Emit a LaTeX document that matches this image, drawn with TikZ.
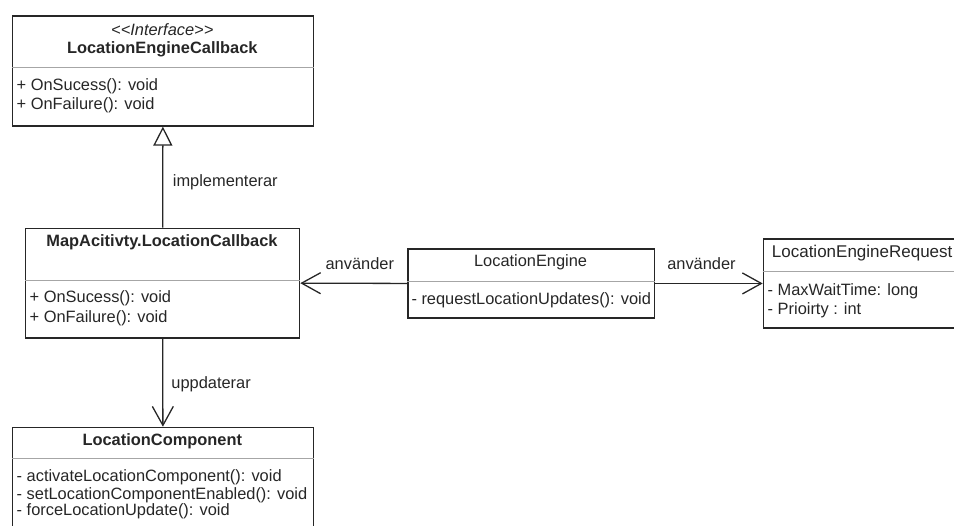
\documentclass[tikz,border=0pt]{standalone}
\usepackage{fontspec}
\setmainfont{Liberation Sans}
\usetikzlibrary{arrows.meta}

\begin{document}
\begin{tikzpicture}[x=1pt,y=-1pt,
  every node/.style={font=\fontsize{16.4}{19.5}\selectfont, text=black!85, inner sep=0pt},
  classbox/.style={draw=black!85, line width=1.3pt, rectangle, anchor=north west, inner sep=0pt},
  sepline/.style={draw=black!35, line width=1pt},
  conn/.style={draw=black!85, line width=1.3pt},
  boldtitle/.style={font=\fontsize{16.4}{19.5}\selectfont\bfseries},
  member/.style={anchor=west},
  lbl/.style={anchor=west},
  realize/.style={-{Triangle[open,length=19pt,width=19pt,line width=1.3pt]}},
  assoc/.style={-{Straight Barb[length=19pt,width=21pt,line width=1.3pt]}}
]
\useasboundingbox (0,0) rectangle (954,526);
\clip (0,0) rectangle (954,526);

% LocationEngineCallback (interface)
\node[classbox, minimum width=300.5pt, minimum height=110pt] (cb) at (12,15.3) {};
\draw[sepline] ([yshift=-52.5pt]cb.north west) -- ([yshift=-52.5pt]cb.north east);
\node (cbS) at (162.3,30) {\itshape <\kern0pt<Interface>\kern0pt>};
\node[boldtitle] (cbT) at (162.3,49) {LocationEngineCallback};
\node[member] (cbM1) at (16.5,86) {+ OnSucess(): void};
\node[member] (cbM2) at (16.5,105) {+ OnFailure(): void};

% MapAcitivty.LocationCallback
\node[classbox, minimum width=274pt, minimum height=109.6pt] (mcb) at (25,227.7) {};
\draw[sepline] ([yshift=-52.5pt]mcb.north west) -- ([yshift=-52.5pt]mcb.north east);
\node[boldtitle] (mcbT) at (162,242) {MapAcitivty.LocationCallback};
\node[member] (mcbM1) at (29.5,298) {+ OnSucess(): void};
\node[member] (mcbM2) at (29.5,318) {+ OnFailure(): void};

% LocationEngine
\node[classbox, minimum width=246.7pt, minimum height=69pt] (le) at (407.3,248.3) {};
\draw[sepline] ([yshift=-33.4pt]le.north west) -- ([yshift=-33.4pt]le.north east);
\node (leT) at (530.6,262.7) {LocationEngine};
\node[member] (leM1) at (411.3,300) {- requestLocationUpdates(): void};

% LocationEngineRequest (runs past the right edge)
\node[classbox, minimum width=195pt, minimum height=89pt] (ler) at (762.7,238.3) {};
\draw[sepline] ([yshift=-33.4pt]ler.north west) -- ([yshift=-33.4pt]ler.north east);
\node[anchor=west, font=\fontsize{17}{20}\selectfont] (lerT) at (771.7,253.3) {LocationEngineRequest};
\node[member] (lerM1) at (767.5,291) {- MaxWaitTime: long};
\node[member] (lerM2) at (767.5,310) {- Prioirty : int};

% LocationComponent (runs past the bottom edge)
\node[classbox, minimum width=300.5pt, minimum height=120pt] (lc) at (12,426.7) {};
\draw[sepline] ([yshift=-32.3pt]lc.north west) -- ([yshift=-32.3pt]lc.north east);
\node[boldtitle] (lcT) at (162.3,441.7) {LocationComponent};
\node[member] (lcM1) at (16.5,477.3) {- activateLocationComponent(): void};
\node[member] (lcM2) at (16.5,495) {- setLocationComponentEnabled(): void};
\node[member] (lcM3) at (16.5,511.7) {- forceLocationUpdate(): void};

% Relations
\draw[conn, realize] (mcb.north) -- node[lbl, pos=0.45, xshift=9.5pt] (l1) {implementerar} (cb.south);
\draw[conn, assoc] (le.west) -- node[pos=0.444, yshift=20pt] (l2) {använder} (mcb.east);
\draw[conn, assoc] (le.east) -- node[pos=0.43, yshift=20pt] (l3) {använder} (ler.west);
\draw[conn, assoc] (mcb.south) -- node[lbl, pos=0.52, xshift=8pt] (l4) {uppdaterar} (lc.north);
\end{tikzpicture}
\end{document}
